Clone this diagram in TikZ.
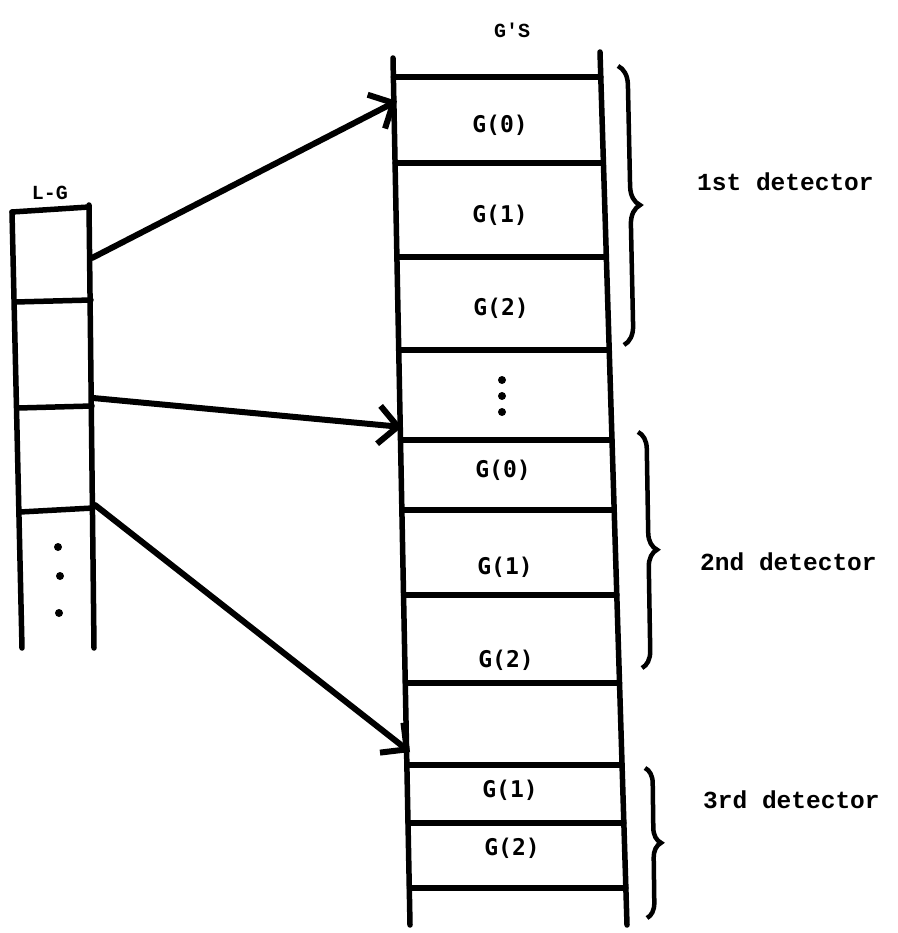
\documentclass[tikz,border=0pt]{standalone}
\usepackage{fontspec}
\setmonofont{Liberation Mono}
\newfontfamily\gfont{DejaVu Sans Mono}
\usetikzlibrary{arrows.meta,decorations.pathreplacing}
\begin{document}
\begin{tikzpicture}[x=1pt,y=-1pt,
  ln/.style={line width=5.5pt,line cap=round},
  conn/.style={line width=6pt,line cap=round,-{Straight Barb[length=19pt,width=38pt,line width=6pt]}},
  lbl/.style={font=\gfont\bfseries\fontsize{23}{25}\selectfont,inner sep=0pt},
  small/.style={font=\ttfamily\bfseries\fontsize{20}{22}\selectfont,inner sep=0pt},
  det/.style={font=\ttfamily\bfseries\fontsize{24.5}{26}\selectfont,inner sep=0pt,anchor=west},
  brc/.style={line width=4.5pt,decorate,decoration={brace,amplitude=#1}},
  dot/.style={circle,fill=black,inner sep=0pt,minimum size=8pt}]
\useasboundingbox (0,0) rectangle (897,933);
% left column (L-G)
\coordinate (LTL) at (12,212);
\coordinate (LBL) at (22,648);
\coordinate (LTR) at (89,205);
\coordinate (LBR) at (94,648);
\draw[ln] (LTL) -- (LBL);
\draw[ln] (LTR) -- (LBR);
\draw[ln] (12,212) -- (89,207);
\draw[ln] (15,302) -- (91,300);
\draw[ln] (18,408) -- (92,406);
\draw[ln] (20,512) -- (93,508);
\node[small] (lg) at (50,193) {L-G};
\node[dot] (ld1) at (58,547) {};
\node[dot] (ld2) at (60,576) {};
\node[dot] (ld3) at (59,613) {};
% right column (G'S)
\coordinate (RTL) at (393,58);
\coordinate (RBL) at (410,925);
\coordinate (RTR) at (600,52);
\coordinate (RBR) at (627,925);
\draw[ln] (RTL) -- (RBL);
\draw[ln] (RTR) -- (RBR);
\foreach \a/\b/\y in {393.4/600.8/77, 395.1/603.4/163, 396.9/606.3/257, 398.7/609.2/350,
  400.5/612/440, 401.9/614.2/510, 403.5/616.8/595, 405.3/619.5/683,
  406.9/622/765, 408/623.8/823, 409.3/625.8/888}
  \draw[ln] (\a,\y) -- (\b,\y);
\node[small] (gs) at (512,30) {G'S};
\node[lbl] (g0a) at (500,125) {G(0)};
\node[lbl] (g1a) at (500,215) {G(1)};
\node[lbl] (g2a) at (501,308) {G(2)};
\node[dot] (rd1) at (502,380) {};
\node[dot] (rd2) at (502,396) {};
\node[dot] (rd3) at (502,412) {};
\node[lbl] (g0b) at (503,470) {G(0)};
\node[lbl] (g1b) at (505,567) {G(1)};
\node[lbl] (g2b) at (506,660) {G(2)};
\node[lbl] (g1c) at (510,790) {G(1)};
\node[lbl] (g2c) at (512,848) {G(2)};
% connectors
\coordinate (s1) at (92,258);
\coordinate (e1) at (397,101);
\coordinate (s2) at (93,398);
\coordinate (e2) at (402,427);
\coordinate (s3) at (95,505);
\coordinate (e3) at (410,752);
\draw[conn] (s1) -- (e1);
\draw[conn] (s2) -- (e2);
\draw[conn] (s3) -- (e3);
% braces
\coordinate (b1t) at (618,66);
\coordinate (b1b) at (624,345);
\coordinate (b2t) at (638,432);
\coordinate (b2b) at (642,668);
\coordinate (b3t) at (645,768);
\coordinate (b3b) at (647,918);
\draw[brc=19pt] (b1t) -- (b1b);
\draw[brc=17pt] (b2t) -- (b2b);
\draw[brc=15pt] (b3t) -- (b3b);
\node[det] (d1) at (697,182) {1st detector};
\node[det] (d2) at (700,562) {2nd detector};
\node[det] (d3) at (703,800) {3rd detector};
\end{tikzpicture}
\end{document}
